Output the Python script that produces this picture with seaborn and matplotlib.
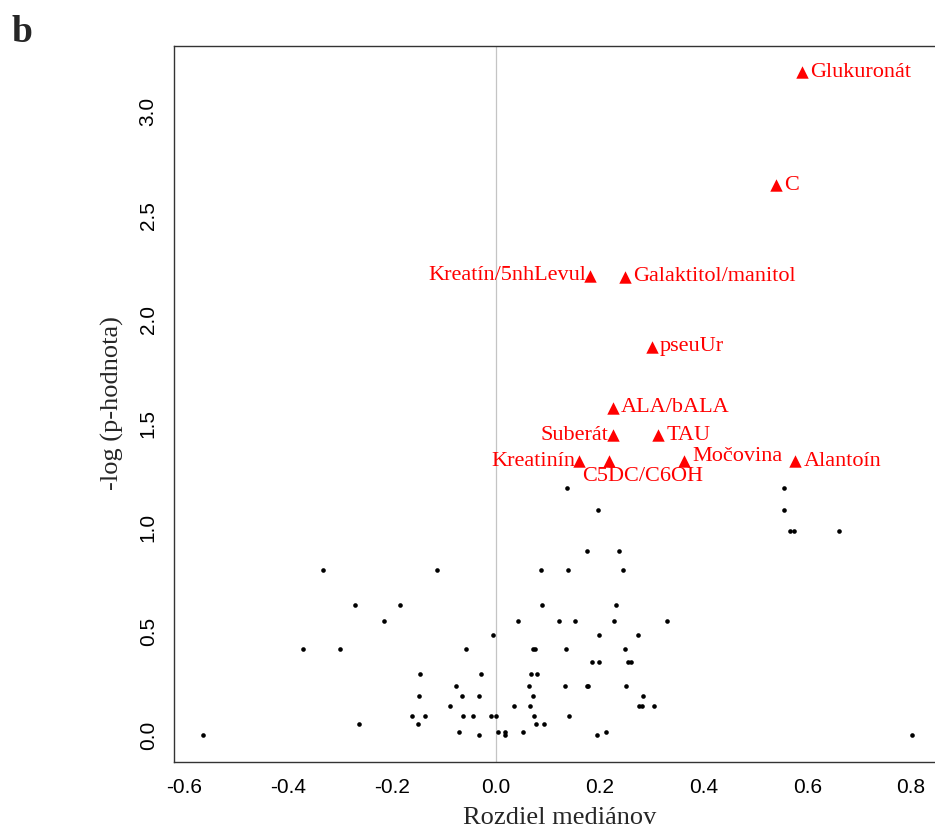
import matplotlib
matplotlib.use("Agg")
import matplotlib.pyplot as plt
from matplotlib import font_manager
import numpy as np
import pandas as pd
import seaborn as sns

# Median differences and -log10(p) for metabolites that were not significant
diff_ns = [
    -0.565, -0.033, 0.017, 0.195, 0.801,
    -0.072, 0.004, 0.017, 0.052, 0.213,
    -0.264, -0.150, 0.077, 0.093,
    -0.162, -0.136, -0.064, -0.044, -0.009, 0.000, 0.073, 0.141,
    -0.089, 0.034, 0.066, 0.275, 0.281, 0.304,
    -0.148, -0.065, -0.033, 0.071, 0.284,
    -0.076, 0.064, 0.134, 0.175, 0.178, 0.250,
    -0.147, -0.028, 0.068, 0.080,
    0.186, 0.199, 0.254, 0.261,
    -0.371, -0.301, -0.057, 0.071, 0.076, 0.136, 0.248,
    -0.005, 0.198, 0.273,
    -0.215, 0.043, 0.122, 0.152, 0.227, 0.330,
    -0.272, -0.184, 0.088, 0.232,
    -0.334, -0.113, 0.086, 0.138, 0.245,
    0.175, 0.237,
    0.566, 0.575, 0.661,
    0.197, 0.555,
    0.137, 0.556,
]
logp_ns = [
    0.0, 0.0, 0.0, 0.0, 0.0,
    0.015, 0.015, 0.015, 0.015, 0.015,
    0.054, 0.054, 0.054, 0.054,
    0.092, 0.092, 0.092, 0.092, 0.092, 0.092, 0.092, 0.092,
    0.140, 0.140, 0.140, 0.140, 0.140, 0.140,
    0.187, 0.187, 0.187, 0.187, 0.187,
    0.238, 0.238, 0.238, 0.238, 0.238, 0.238,
    0.293, 0.293, 0.293, 0.293,
    0.351, 0.351, 0.351, 0.351,
    0.414, 0.414, 0.414, 0.414, 0.414, 0.414, 0.414,
    0.480, 0.480, 0.480,
    0.551, 0.551, 0.551, 0.551, 0.551, 0.551,
    0.624, 0.624, 0.624, 0.624,
    0.794, 0.794, 0.794, 0.794, 0.794,
    0.884, 0.884,
    0.982, 0.982, 0.982,
    1.083, 1.083,
    1.190, 1.190,
]

# Significant metabolites
sig_names = ["Glukuronát", "C", "Kreatín/5nhLevul", "Galaktitol/manitol",
             "pseuUr", "ALA/bALA", "Suberát", "TAU", "Kreatinín",
             "C5DC/C6OH", "Močovina", "Alantoín"]
sig_diff = [0.590, 0.539, 0.182, 0.248, 0.300, 0.225, 0.225, 0.3125,
            0.161, 0.218, 0.363, 0.577]
sig_logp = [3.190, 2.645, 2.210, 2.205, 1.868, 1.575, 1.443, 1.443,
            1.319, 1.319, 1.319, 1.319]

# Label placement (pixel offsets from the marker, horizontal alignment)
label_place = {
    "Kreatín/5nhLevul": ((-4, 0), "right"),
    "Suberát": ((-4, 0), "right"),
    "Kreatinín": ((-4, 0), "right"),
    "C5DC/C6OH": ((-27, -15), "left"),
    "Močovina": ((8, 5), "left"),
}
default_place = ((8, 0), "left")

ns_df = pd.DataFrame({"diff": diff_ns, "logp": logp_ns})
sig_df = pd.DataFrame({"name": sig_names, "diff": sig_diff, "logp": sig_logp})

installed = {f.name for f in font_manager.fontManager.ttflist}
tick_family = ["Liberation Sans Narrow", "Liberation Sans"] if "Liberation Sans Narrow" in installed else ["Liberation Sans"]
serif = ["Liberation Serif", "DejaVu Serif"]

sns.set_style("white")
plt.rcParams["font.family"] = tick_family

W, H = 935, 834
fig = plt.figure(figsize=(W / 100, H / 100), dpi=100)
ax = fig.add_axes([174.3 / W, 1 - 761.7 / H, (940 - 174.3) / W, (761.7 - 45.7) / H])

ax.axvline(0, color="#c4c4c4", lw=0.9, zorder=0)

sns.scatterplot(data=ns_df, x="diff", y="logp", ax=ax, color="black",
                marker="o", s=11, linewidth=0, zorder=3, legend=False)
sns.scatterplot(data=sig_df, x="diff", y="logp", ax=ax, color="#ff0000",
                marker="^", s=80, linewidth=0, zorder=3, legend=False)

for name, x, y in zip(sig_names, sig_diff, sig_logp):
    (dx, dy), ha = label_place.get(name, default_place)
    ax.annotate(name, (x, y), xytext=(dx, dy), textcoords="offset pixels",
                ha=ha, va="center", color="#ff0000", fontsize=16,
                family=serif, annotation_clip=False)

ax.set_xlim(-0.6196, 0.8556)
ax.set_ylim(-0.1276, 3.3176)
ax.set_xticks(np.arange(-0.6, 0.81, 0.2))
ax.set_xticklabels([f"{v:.1f}" for v in np.arange(-0.6, 0.81, 0.2)])
ax.set_yticks(np.arange(0, 3.01, 0.5))
ax.set_yticklabels([f"{v:.1f}" for v in np.arange(0, 3.01, 0.5)])

for side in ["left", "bottom", "top", "right"]:
    ax.spines[side].set_color("#333333")
    ax.spines[side].set_linewidth(1.0)

ax.tick_params(axis="both", direction="out", length=6.5, width=0.9,
               color="#333333", labelsize=15, labelcolor="black")
ax.tick_params(axis="x", pad=5)
ax.tick_params(axis="y", pad=5.5, labelrotation=90)
for lab in ax.get_yticklabels():
    lab.set_verticalalignment("center")

ax.set_xlabel("")
ax.set_ylabel("")
fig.text(560 / W, 1 - 818 / H, "Rozdiel mediánov", ha="center", va="center",
         fontsize=19, family=serif)
fig.text(112 / W, 1 - 403 / H, "-log (p-hodnota)", ha="center", va="center",
         rotation=90, fontsize=19, family=serif)
fig.text(12 / W, 1 - 41.7 / H, "b", ha="left", va="baseline",
         fontsize=27, fontweight="bold", family=serif)

fig.savefig("out.png", dpi=100)
